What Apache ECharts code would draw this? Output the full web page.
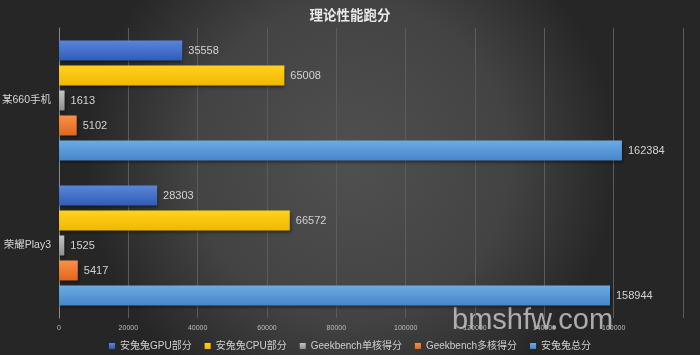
<!DOCTYPE html>
<html><head><meta charset="utf-8">
<script src="https://cdn.jsdelivr.net/npm/echarts@6/dist/echarts.min.js"></script>
<style>html,body{margin:0;padding:0;}#c{width:700px;height:355px;}</style>
</head><body><div id="c"></div>
<script>
const categories = ['某660手机', '荣耀Play3'];
const seriesNames = ['安兔兔GPU部分', '安兔兔CPU部分', 'Geekbench单核得分', 'Geekbench多核得分', '安兔兔总分'];
const gpu = [35558, 28303];
const cpu = [65008, 66572];
const single = [1613, 1525];
const multi = [5102, 5417];
const total = [162384, 158944];
const xTicks = [0, 20000, 40000, 60000, 80000, 100000, 120000, 140000, 160000];

const colors = [['#5a86d8','#2f5cb8'], ['#ffd21f','#f0b800'], ['#c4c4c4','#8f8f8f'], ['#f8914a','#e0661c'], ['#6eaae3','#4586cc']];
const data = [gpu, cpu, single, multi, total];
const font = '"Noto Sans CJK SC", "Liberation Sans", sans-serif';
const numFont = '"Liberation Sans", "Noto Sans CJK SC", sans-serif';

const chart = echarts.init(document.getElementById('c'));
chart.setOption({
  backgroundColor: {type:'radial', x:0.5, y:0.45, r:0.75, colorStops:[{offset:0,color:'#505050'},{offset:0.6,color:'#434343'},{offset:1,color:'#262626'}]},
  title: {text:'理论性能跑分', left:'center', top:3, textStyle:{color:'#e8e8e8', fontSize:13.5, fontWeight:'bold', fontFamily:font}},
  legend: {bottom:-1, left:'center', itemWidth:6, itemHeight:6, itemGap:13, icon:'rect',
    textStyle:{color:'#cfcfcf', fontSize:10, fontFamily:numFont}, data: seriesNames},
  grid: {left:59, right:17, top:28, bottom:37, outerBoundsMode:'none', containLabel:false},
  xAxis: {type:'value', min:0, max:180000, interval:20000,
    axisLine:{show:false}, axisTick:{show:false},
    axisLabel:{color:'#bdbdbd', fontSize:7, margin:7, fontFamily:numFont, formatter:v=> xTicks.includes(v)? String(v):''},
    splitLine:{lineStyle:{color:'#5c5c5c', width:1}}},
  yAxis: {type:'category', data:categories, inverse:true,
    axisLine:{show:true, lineStyle:{color:'#8a8a8a'}}, axisTick:{show:false},
    axisLabel:{color:'#d6d6d6', fontSize:10.5, margin:8, fontFamily:numFont}},
  graphic: [{type:'text', left:452, top:306, silent:true, style:{text:'bmshfw.com', fill:'rgba(205,205,205,0.8)', font:'29px "Liberation Sans", sans-serif'}}],
  series: seriesNames.map((n,i)=>({
    name:n, type:'bar', data:data[i], barWidth:20, barGap:'25%', barCategoryGap:'17%',
    itemStyle:{color:{type:'linear',x:0,y:0,x2:0,y2:1,colorStops:[{offset:0,color:colors[i][0]},{offset:1,color:colors[i][1]}]},
      shadowColor:'rgba(0,0,0,0.45)', shadowBlur:3, shadowOffsetX:1, shadowOffsetY:2},
    label:{show:true, position:'right', distance:6, color:'#d2d2d2', fontSize:11, fontFamily:numFont}
  }))
});
</script></body></html>
